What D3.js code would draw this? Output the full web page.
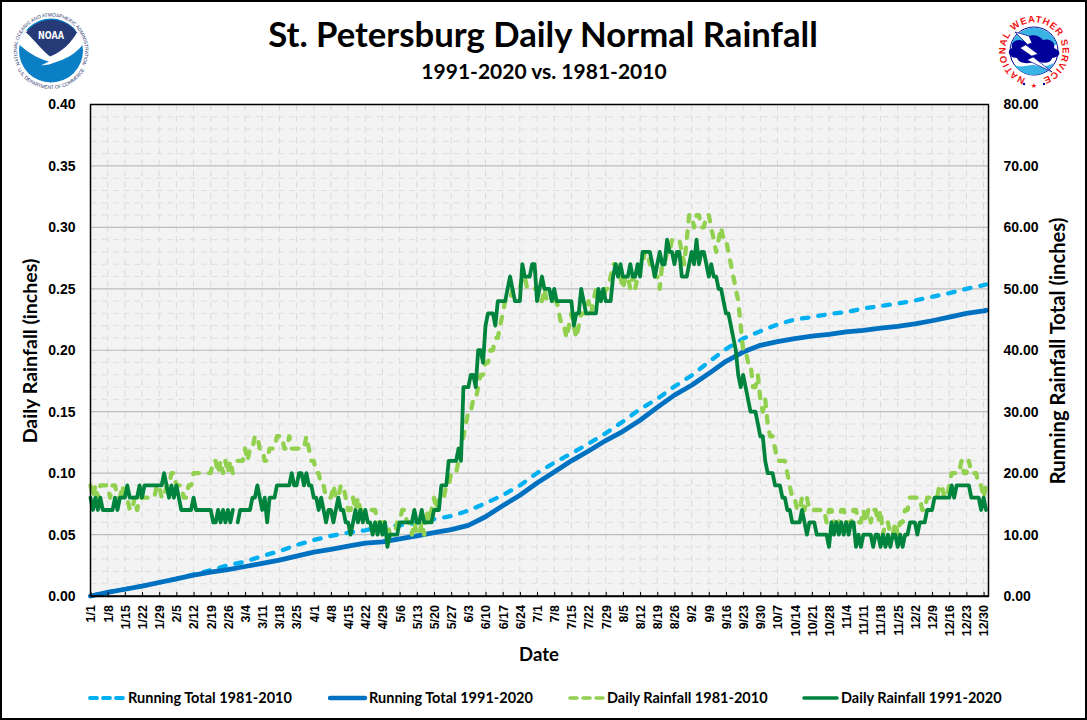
<!DOCTYPE html>
<html>
<head>
<meta charset="utf-8">
<script src="https://d3js.org/d3.v7.min.js"></script>
<style>
html, body { margin: 0; padding: 0; background: #fff; }
svg { display: block; }
</style>
</head>
<body>
<svg id="chart" width="1087" height="720"></svg>
<script>
// Week tick labels (leap year, every 7 days from 1/1)
var tickLabels = ["1/1","1/8","1/15","1/22","1/29","2/5","2/12","2/19","2/26","3/4","3/11","3/18","3/25","4/1","4/8","4/15","4/22","4/29","5/6","5/13","5/20","5/27","6/3","6/10","6/17","6/24","7/1","7/8","7/15","7/22","7/29","8/5","8/12","8/19","8/26","9/2","9/9","9/16","9/23","9/30","10/7","10/14","10/21","10/28","11/4","11/11","11/18","11/25","12/2","12/9","12/16","12/23","12/30"];

var leftTicks = [0, 0.05, 0.10, 0.15, 0.20, 0.25, 0.30, 0.35, 0.40];
var rightTicks = [0, 10, 20, 30, 40, 50, 60, 70, 80];

// Daily rainfall in hundredths of an inch, one row per week. 2/29 has no value.
var daily1991 = [
  8,7,8,7,8,7,7,  7,7,7,8,7,8,8,  8,9,8,8,8,8,9,  8,9,9,9,9,9,9,
  9,9,10,9,8,9,8,  9,8,7,7,7,7,7,  8,7,7,7,7,7,7,  7,6,6,7,6,7,6,
  7,6,7,null,6,7,7,  7,7,7,8,8,9,8,  7,8,6,8,8,8,9,  9,9,9,9,9,10,9,
  9,10,10,9,10,9,9,  8,8,7,8,7,6,7,  7,6,7,8,7,7,6,  6,5,6,7,6,7,6,
  7,6,6,5,6,5,6,  5,6,4,5,5,5,5,  6,6,6,6,6,6,7,  6,6,7,6,6,6,6,
  7,7,7,9,9,9,11,  11,11,11,12,11,17,17,  17,18,18,17,20,20,19,  22,23,23,23,22,24,24,
  24,24,25,26,25,24,24,  24,27,26,26,26,27,27,  24,25,26,25,25,25,24,  25,24,24,24,24,24,24,
  24,22,23,23,25,24,23,  23,23,23,23,25,24,25,  24,24,24,26,27,26,27,  26,26,26,27,26,26,27,
  26,28,28,28,28,27,26,  27,28,27,27,29,28,28,  27,28,28,26,26,26,27,  28,27,29,27,28,28,27,
  26,27,26,26,25,25,24,  23,23,22,21,20,18,17,  18,17,16,15,15,15,14,  13,13,11,10,10,10,9,
  9,9,8,8,7,7,6,  6,6,6,7,6,5,6,  6,6,5,5,5,5,5,  4,6,5,6,5,6,5,
  6,5,6,6,4,5,4,  5,5,5,5,4,5,5,  4,5,4,5,4,5,5,  4,5,4,5,5,6,6,
  6,5,6,6,6,7,7,  7,8,8,8,8,8,8,  8,9,8,9,9,9,9,  9,9,8,8,8,8,7,
  8,7
];

var daily1981 = [
  9,8,9,8,9,9,9,  9,8,9,9,8,8,9,  8,8,7,7,8,7,8,  8,8,8,8,8,8,9,
  9,8,8,9,9,10,10,  9,9,9,8,8,9,9,  10,10,10,10,10,10,10,  10,11,11,10,11,10,11,
  10,11,10,null,11,11,11,  12,11,12,12,13,13,12,  12,11,11,12,12,12,13,  13,13,12,12,13,12,12,
  12,12,12,12,13,12,11,  11,10,10,9,9,8,8,  8,9,8,8,9,9,8,  7,7,8,7,8,7,7,
  7,7,7,7,7,6,6,  6,6,6,5,5,5,6,  6,7,7,6,6,5,6,  5,5,6,5,7,6,7,
  8,7,8,8,8,9,9,  10,10,10,11,12,13,14,  15,15,16,16,17,18,18,  19,19,20,20,21,21,22,
  23,24,24,24,25,25,25,  25,26,26,25,25,25,25,  25,24,24,25,24,24,24,  24,24,23,22,22,21,22,
  23,22,21,22,23,23,23,  24,23,24,25,25,24,24,  25,25,26,27,27,26,26,  25,26,26,25,26,25,26,
  27,27,28,28,27,27,26,  26,25,27,27,28,28,29,  29,29,29,28,27,29,31,  31,30,31,31,30,30,31,
  31,30,29,28,29,30,29,  29,28,27,26,25,24,22,  20,20,19,19,17,17,18,  16,15,16,14,13,13,12,
  11,11,11,11,10,9,8,  8,7,7,8,7,8,7,  7,7,7,7,7,7,6,  7,7,6,6,6,7,7,
  6,6,6,7,7,6,6,  7,6,7,6,7,7,6,  7,5,6,6,5,5,6,  5,6,6,7,7,8,8,
  8,8,8,7,7,8,8,  8,8,8,9,9,8,8,  9,10,10,10,10,11,10,  10,11,10,10,10,9,9,
  8,9
];

// Running totals in inches, read at each week tick, last value is 12/31
var total1991 = [0,0.6,1.1,1.6,2.2,2.8,3.4,3.9,4.3,4.8,5.3,5.85,6.5,7.15,7.6,8.1,8.6,8.8,9.3,9.8,10.3,10.8,11.5,12.9,14.7,16.4,18.4,20.2,22.0,23.6,25.3,26.8,28.6,30.7,32.7,34.3,36.2,38.2,39.7,40.8,41.4,41.9,42.3,42.6,43.0,43.25,43.6,43.9,44.3,44.8,45.4,46.0,46.4,46.5];
var total1981 = [0,0.6,1.1,1.6,2.2,2.8,3.5,4.2,5.0,5.6,6.5,7.3,8.3,9.1,9.8,10.3,10.7,11.3,11.5,11.9,12.5,13.0,13.9,15.1,16.4,18.0,20.0,21.7,23.2,24.8,26.5,28.4,30.4,32.1,34.1,35.9,38.1,40.2,41.9,43.1,44.2,45.0,45.4,45.9,46.2,46.8,47.2,47.6,48.1,48.7,49.3,50.0,50.6,50.7];

var legendNames = ["Running Total 1981-2010", "Running Total 1991-2020", "Daily Rainfall 1981-2010", "Daily Rainfall 1991-2020"];

var margin = { top: 104.5, right: 98.5, bottom: 124, left: 90.5 };
var W = 1087, H = 720;
var innerW = W - margin.left - margin.right;
var innerH = H - margin.top - margin.bottom;
var LABEL_FONT = "'Liberation Sans', Arial, sans-serif";
var TITLE_FONT = "Lato, 'Open Sans', sans-serif";

var colors = { total81: "#00b0f0", total91: "#0070c0", daily81: "#92d050", daily91: "#00843d" };

var svg = d3.select("#chart");
svg.append("rect").attr("x", 1).attr("y", 1).attr("width", W - 2).attr("height", H - 2)
  .attr("fill", "#fff").attr("stroke", "#000").attr("stroke-width", 2);

var x = d3.scaleLinear().domain([0, 366]).range([margin.left, W - margin.right]);
var yRain = d3.scaleLinear().domain([0, 0.40]).range([H - margin.bottom, margin.top]);
var yTotal = d3.scaleLinear().domain([0, 80]).range([H - margin.bottom, margin.top]);

var plot = svg.append("g");
plot.append("rect").attr("x", margin.left).attr("y", margin.top)
  .attr("width", innerW).attr("height", innerH).attr("fill", "#f3f3f3");

// minor grid
var weekDays = tickLabels.map(function(d, i) { return i * 7; });
plot.selectAll("line.vminor").data(weekDays.slice(1)).enter().append("line")
  .attr("x1", function(d) { return x(d); }).attr("x2", function(d) { return x(d); })
  .attr("y1", margin.top).attr("y2", H - margin.bottom)
  .attr("stroke", "#dadada").attr("stroke-width", 1).attr("stroke-dasharray", "6 5");

plot.selectAll("line.hminor").data(d3.range(1, 40).filter(function(d) { return d % 5 != 0; })).enter().append("line")
  .attr("x1", margin.left).attr("x2", W - margin.right)
  .attr("y1", function(d) { return yRain(d / 100); }).attr("y2", function(d) { return yRain(d / 100); })
  .attr("stroke", "#dedede").attr("stroke-width", 1).attr("stroke-dasharray", "6 5");

// major grid
plot.selectAll("line.hmajor").data(leftTicks.slice(1, -1)).enter().append("line")
  .attr("x1", margin.left).attr("x2", W - margin.right)
  .attr("y1", function(d) { return yRain(d); }).attr("y2", function(d) { return yRain(d); })
  .attr("stroke", "#bdbdbd").attr("stroke-width", 1.2);

// lines
var dailyLine = d3.line()
  .defined(function(d) { return d != null; })
  .x(function(d, i) { return x(i); })
  .y(function(d) { return yRain(d / 100); });

var totalLine = d3.line()
  .x(function(d, i) { return x(i == tickLabels.length ? 365 : i * 7); })
  .y(function(d) { return yTotal(d); });

function drawLine(data, gen, color, width, dash) {
  plot.append("path").datum(data).attr("d", gen)
    .attr("fill", "none").attr("stroke", color).attr("stroke-width", width)
    .attr("stroke-linecap", "round").attr("stroke-linejoin", "round")
    .attr("stroke-dasharray", dash);
}
drawLine(total1981, totalLine, colors.total81, 4.3, "6.5 10");
drawLine(total1991, totalLine, colors.total91, 4.8, null);
drawLine(daily1981, dailyLine, colors.daily81, 4.3, "6.5 10");
drawLine(daily1991, dailyLine, colors.daily91, 3.8, null);

// plot frame
plot.append("rect").attr("x", margin.left).attr("y", margin.top)
  .attr("width", innerW).attr("height", innerH).attr("fill", "none")
  .attr("stroke", "#000").attr("stroke-width", 1.5);

// axes
var xAxis = d3.axisBottom(x).tickValues(weekDays)
  .tickFormat(function(d, i) { return tickLabels[i]; })
  .tickSizeInner(-4).tickSizeOuter(0);
var xg = svg.append("g").attr("transform", "translate(0," + (H - margin.bottom) + ")").call(xAxis);
xg.select(".domain").attr("stroke", "#000").attr("stroke-width", 1.5);
xg.selectAll(".tick line").attr("stroke", "#000").attr("stroke-width", 1);
xg.selectAll(".tick text")
  .attr("transform", "rotate(-90)")
  .attr("x", -9).attr("y", 0).attr("dy", "0.35em")
  .attr("text-anchor", "end")
  .attr("font-family", LABEL_FONT).attr("font-weight", "bold").attr("font-size", 12.5).attr("fill", "#000");

var yLeft = d3.axisLeft(yRain).tickValues(leftTicks).tickFormat(d3.format(".2f")).tickSize(0).tickPadding(15);
var ylg = svg.append("g").attr("transform", "translate(" + margin.left + ",0)").call(yLeft);
ylg.select(".domain").remove();
ylg.selectAll("text").attr("font-family", LABEL_FONT).attr("font-weight", "bold").attr("font-size", 14).attr("fill", "#000");

var yRight = d3.axisRight(yTotal).tickValues(rightTicks).tickFormat(d3.format(".2f")).tickSize(0).tickPadding(15);
var yrg = svg.append("g").attr("transform", "translate(" + (W - margin.right) + ",0)").call(yRight);
yrg.select(".domain").remove();
yrg.selectAll("text").attr("font-family", LABEL_FONT).attr("font-weight", "bold").attr("font-size", 14).attr("fill", "#000");

// titles
function label(text, px, py, size, rotate) {
  var t = svg.append("text").text(text)
    .attr("text-anchor", "middle").attr("font-family", TITLE_FONT)
    .attr("font-weight", "bold").attr("font-size", size).attr("fill", "#000");
  if (rotate) t.attr("transform", "translate(" + px + "," + py + ") rotate(-90)");
  else t.attr("x", px).attr("y", py);
  return t;
}
label("St. Petersburg Daily Normal Rainfall", 543, 47, 34.7);
label("1991-2020 vs. 1981-2010", 544, 79, 21);
label("Date", 539, 661, 18.5);
label("Daily Rainfall (inches)", 37, 351, 19.6, true);
label("Running Rainfall Total (inches)", 1065, 351, 20.2, true);

// legend
var legendItems = [
  { color: colors.total81, dash: "7 6", w: 3.8, x0: 90, x1: 126, tx: 128 },
  { color: colors.total91, dash: null, w: 4.4, x0: 330, x1: 365, tx: 369 },
  { color: colors.daily81, dash: "7 6", w: 3.6, x0: 570, x1: 604, tx: 607 },
  { color: colors.daily91, dash: null, w: 3.6, x0: 804, x1: 837, tx: 841 }
];
var leg = svg.append("g").selectAll("g").data(legendItems).enter().append("g");
leg.append("line")
  .attr("x1", function(d) { return d.x0; }).attr("x2", function(d) { return d.x1; })
  .attr("y1", 698).attr("y2", 698)
  .attr("stroke", function(d) { return d.color; })
  .attr("stroke-width", function(d) { return d.w; })
  .attr("stroke-linecap", "round")
  .attr("stroke-dasharray", function(d) { return d.dash; });
leg.append("text")
  .attr("x", function(d) { return d.tx; }).attr("y", 703)
  .text(function(d, i) { return legendNames[i]; })
  .attr("font-family", TITLE_FONT).attr("font-weight", "bold").attr("font-size", 14.5).attr("fill", "#000");

// NOAA logo
var defs = svg.append("defs");
var noaa = svg.append("g").attr("transform", "translate(51,50.5)");
noaa.append("circle").attr("r", 32).attr("fill", "#0a7fc6");
noaa.append("path").attr("d", "M-32,-6 A32,32 0 0 1 -25,-20 L25,-20 A32,32 0 0 1 32,-6 C24,4 14,9 6,10 L15,8 L-2,14 L-10,15 L-2,11 C-14,8 -24,1 -32,-6 Z").attr("fill", "#fff");
noaa.append("path").attr("d", "M-25,-18 A32,32 0 0 1 26,-18 C20,-8 12,1 -1,6 C-8,1 -16,-10 -25,-18 Z").attr("fill", "#263a78");
noaa.append("text").text("NOAA").attr("x", 0).attr("y", -11.5).attr("text-anchor", "middle")
  .attr("textLength", 26).attr("lengthAdjust", "spacingAndGlyphs")
  .attr("font-family", "'DejaVu Sans', sans-serif").attr("font-weight", "bold").attr("font-size", 10).attr("fill", "#fff");
defs.append("path").attr("id", "noaaTop").attr("d", "M0,34 A34,34 0 1 1 0,-34 A34,34 0 1 1 0,34");
defs.append("path").attr("id", "noaaBottom").attr("d", "M0,-38.5 A38.5,38.5 0 1 0 0,38.5 A38.5,38.5 0 1 0 0,-38.5");
noaa.append("text").attr("font-family", LABEL_FONT).attr("font-size", 4.8).attr("fill", "#26306a")
  .append("textPath").attr("href", "#noaaTop").attr("startOffset", "50%").attr("text-anchor", "middle")
  .text("NATIONAL OCEANIC AND ATMOSPHERIC ADMINISTRATION");
noaa.append("text").attr("font-family", LABEL_FONT).attr("font-size", 4.8).attr("fill", "#26306a")
  .append("textPath").attr("href", "#noaaBottom").attr("startOffset", "50%").attr("text-anchor", "middle")
  .text("U.S. DEPARTMENT OF COMMERCE");

// NWS logo
var nws = svg.append("g").attr("transform", "translate(1034,51)");
nws.append("circle").attr("r", 24).attr("fill", "#fff").attr("stroke", "#00009a").attr("stroke-width", 1);
nws.append("path").attr("d", "M-23,-6 A24,24 0 0 1 23,-6 L-23,-6 Z").attr("fill", "#3ab4e4");
nws.append("path").attr("d", "M-22,-3 C-24,-9 -16,-13 -11,-10 C-8,-17 4,-18 9,-11 C14,-13 22,-10 20,-3 C28,0 27,6 18,7 C17,13 6,13 2,9 C-4,14 -15,13 -17,7 C-25,7 -28,0 -22,-3 Z").attr("fill", "#00009a");
nws.append("path").attr("d", "M-20,14 C-10,18 -4,12 4,15 C10,17 15,14 20,12 C15,20 8,24 0,24 C-8,24 -15,20 -20,14 Z").attr("fill", "#3ab4e4");
nws.append("path").attr("d", "M-19,-19 L-5,-15 L-2,-8 L-8,-6 L4,3 L-2,5 L18,21 L-7,9 L-1,6 L-14,-3 L-7,-7 Z").attr("fill", "#fff").attr("stroke", "#00009a").attr("stroke-width", 0.7);
defs.append("path").attr("id", "nwsRing").attr("d", "M0,28.5 A28.5,28.5 0 1 1 0,-28.5 A28.5,28.5 0 1 1 0,28.5");
nws.append("text").attr("font-family", LABEL_FONT).attr("font-weight", "bold").attr("font-size", 9.5).attr("fill", "#f01414")
  .append("textPath").attr("href", "#nwsRing").attr("startOffset", "50%").attr("text-anchor", "middle")
  .attr("letter-spacing", 0.8).text("NATIONAL WEATHER SERVICE");
nws.append("text").text("★").attr("text-anchor", "middle").attr("y", 36.5).attr("font-family", "'DejaVu Sans', sans-serif").attr("font-size", 7).attr("fill", "#f01414");
nws.selectAll("circle.dot").data([-10, 10]).enter().append("circle").attr("cx", function(d) { return d; }).attr("cy", 33).attr("r", 1.2).attr("fill", "#00009a");
</script>
</body>
</html>
